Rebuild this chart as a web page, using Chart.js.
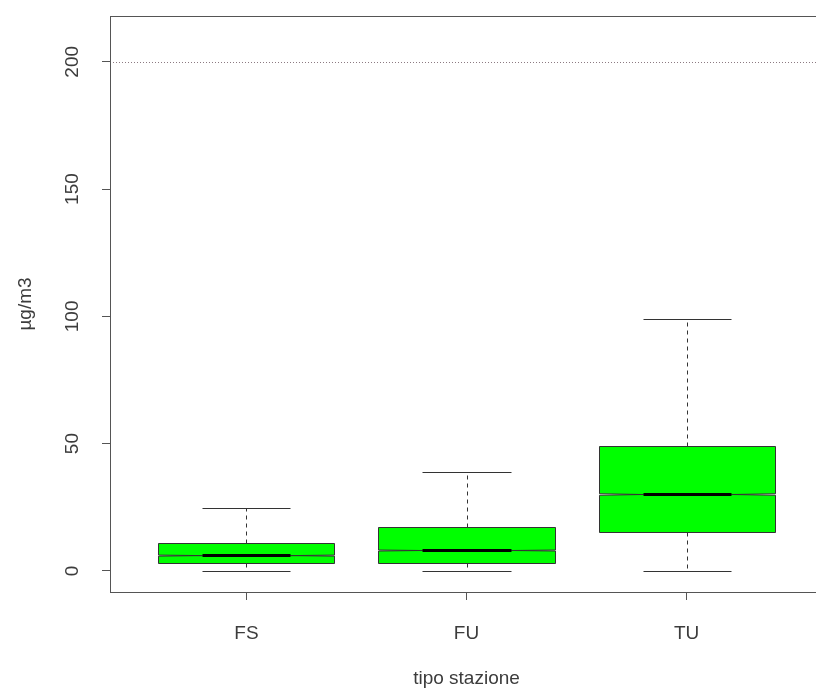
<!DOCTYPE html>
<html>
<head>
<meta charset="utf-8">
<script src="https://cdn.jsdelivr.net/npm/chart.js@4.4.1/dist/chart.umd.min.js"></script>
<style>
  html, body { margin: 0; padding: 0; background: #fff; overflow: hidden; }
  #wrap { width: 840px; height: 695px; }
</style>
</head>
<body>
<div id="wrap"><canvas id="chart" width="840" height="695"></canvas></div>
<script>
// dati
const stations = ['FS', 'FU', 'TU'];
const whiskerLow = [0, 0, 0];
const q1 = [3, 3, 15.2];
const medians = [6, 8, 30];
const q3 = [11.1, 17.4, 49.2];
const whiskerHigh = [24.6, 38.8, 99];
const notchLow = [5.8, 7.8, 29.7];
const notchHigh = [6.2, 8.2, 30.3];
const yTicks = [0, 50, 100, 150, 200];
const limitValue = 200;

const AXIS_COLOR = '#555';
const px = v => Math.round(v) + 0.5;

// disegna i box (con notch), i baffi e la linea del limite
const boxPlugin = {
    id: 'boxes',
    beforeDatasetsDraw(chart) {
        const { ctx, chartArea: a, scales: { x, y } } = chart;
        ctx.save();
        ctx.beginPath();
        ctx.rect(a.left, a.top, a.right - a.left, a.bottom - a.top);
        ctx.clip();

        // linea del limite
        ctx.strokeStyle = '#8c7a82';
        ctx.lineWidth = 1;
        ctx.setLineDash([1, 2]);
        ctx.beginPath();
        ctx.moveTo(a.left, px(y.getPixelForValue(limitValue)));
        ctx.lineTo(a.right, px(y.getPixelForValue(limitValue)));
        ctx.stroke();

        stations.forEach((s, i) => {
            const c = i + 1;
            const xc = px(x.getPixelForValue(c));
            const xl = px(x.getPixelForValue(c - 0.4));
            const xr = px(x.getPixelForValue(c + 0.4));
            const xnl = px(x.getPixelForValue(c - 0.2));
            const xnr = px(x.getPixelForValue(c + 0.2));
            const yLo = px(y.getPixelForValue(whiskerLow[i]));
            const yHi = px(y.getPixelForValue(whiskerHigh[i]));
            const yQ1 = px(y.getPixelForValue(q1[i]));
            const yQ3 = px(y.getPixelForValue(q3[i]));
            const yMed = y.getPixelForValue(medians[i]);
            const yNl = y.getPixelForValue(notchLow[i]);
            const yNh = y.getPixelForValue(notchHigh[i]);

            ctx.strokeStyle = '#333';
            ctx.lineWidth = 1;

            // baffi tratteggiati
            ctx.setLineDash([4, 4]);
            ctx.beginPath();
            ctx.moveTo(xc, yQ3); ctx.lineTo(xc, yHi);
            ctx.moveTo(xc, yQ1); ctx.lineTo(xc, yLo);
            ctx.stroke();

            // estremi dei baffi
            ctx.setLineDash([]);
            ctx.beginPath();
            ctx.moveTo(xnl, yHi); ctx.lineTo(xnr, yHi);
            ctx.moveTo(xnl, yLo); ctx.lineTo(xnr, yLo);
            ctx.stroke();

            // box con notch
            ctx.fillStyle = '#00ff00';
            ctx.beginPath();
            ctx.moveTo(xl, yQ1);
            ctx.lineTo(xl, yNl);
            ctx.lineTo(xnl, yMed);
            ctx.lineTo(xl, yNh);
            ctx.lineTo(xl, yQ3);
            ctx.lineTo(xr, yQ3);
            ctx.lineTo(xr, yNh);
            ctx.lineTo(xnr, yMed);
            ctx.lineTo(xr, yNl);
            ctx.lineTo(xr, yQ1);
            ctx.closePath();
            ctx.fill();
            ctx.stroke();

            // mediana
            ctx.strokeStyle = '#000';
            ctx.lineWidth = 3;
            ctx.beginPath();
            ctx.moveTo(xnl, yMed); ctx.lineTo(xnr, yMed);
            ctx.stroke();
        });
        ctx.restore();
    },
    afterDraw(chart) {
        const { ctx, chartArea: a } = chart;
        ctx.save();
        ctx.strokeStyle = AXIS_COLOR;
        ctx.lineWidth = 1;
        ctx.strokeRect(px(a.left), px(a.top), Math.round(a.right - a.left), Math.round(a.bottom - a.top));
        ctx.restore();
    }
};

Chart.defaults.font.family = '"Liberation Sans", Arial, sans-serif';
Chart.defaults.font.size = 19;
Chart.defaults.color = '#3c3c3c';

new Chart(document.getElementById('chart'), {
    type: 'scatter',
    data: {
        datasets: [{
            data: stations.map((s, i) => ({ x: i + 1, y: medians[i] })),
            pointRadius: 0,
            showLine: false
        }]
    },
    options: {
        responsive: false,
        animation: false,
        layout: { padding: { top: 16, right: 17, left: 0, bottom: 0 } },
        plugins: { legend: { display: false }, tooltip: { enabled: false } },
        scales: {
            x: {
                type: 'linear',
                min: 0.38,
                max: 3.62,
                afterBuildTicks: s => { s.ticks = stations.map((n, i) => ({ value: i + 1 })); },
                afterFit: s => { s.height = 103; s.paddingLeft = 0; s.paddingRight = 0; },
                ticks: {
                    padding: 22,
                    callback: v => stations[v - 1]
                },
                grid: { drawOnChartArea: false, drawTicks: true, tickLength: 8, color: AXIS_COLOR },
                border: { display: false },
                title: { display: true, text: 'tipo stazione', padding: { top: 0, bottom: 5 } }
            },
            y: {
                type: 'linear',
                min: -8.3,
                max: 218,
                afterBuildTicks: s => { s.ticks = yTicks.map(v => ({ value: v })); },
                afterFit: s => { s.width = 110; s.paddingTop = 0; s.paddingBottom = 0; },
                ticks: {
                    minRotation: 90,
                    maxRotation: 90,
                    crossAlign: 'center',
                    padding: 13
                },
                grid: { drawOnChartArea: false, drawTicks: true, tickLength: 8, color: AXIS_COLOR },
                border: { display: false },
                title: { display: true, text: 'µg/m3', padding: { top: 14, bottom: 0 } }
            }
        }
    },
    plugins: [boxPlugin]
});
</script>
</body>
</html>
